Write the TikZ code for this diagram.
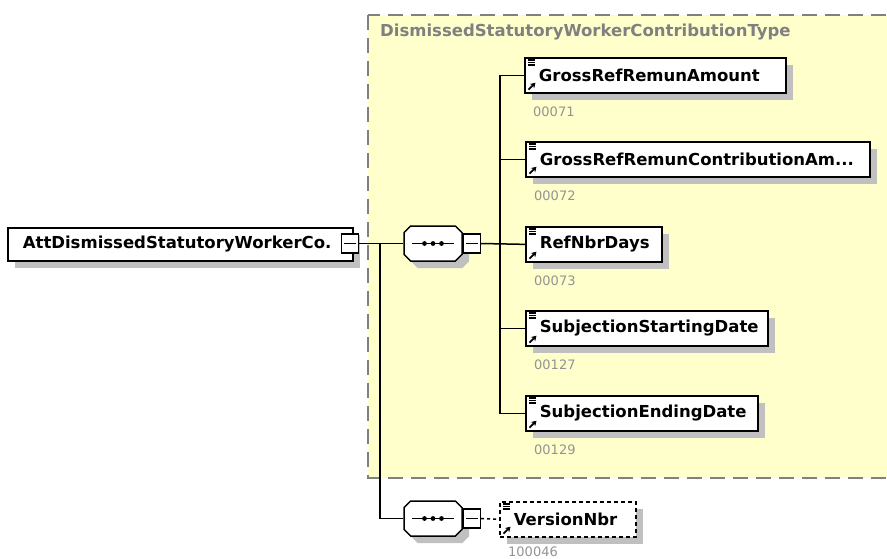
\documentclass[tikz,border=0pt]{standalone}
\usepackage{fontspec}
\setmainfont{DejaVu Sans}
\usetikzlibrary{positioning,shapes.misc,shadows,arrows.meta}
\hyphenpenalty=10000
\exhyphenpenalty=10000
\definecolor{fundo}{RGB}{255,255,204}
\definecolor{sombra}{RGB}{192,192,192}
\definecolor{cinza}{RGB}{128,128,128}
\tikzset{
  elemento/.style={draw, line width=1.7pt, fill=white, anchor=north west,
    minimum height=35pt, inner xsep=14pt, align=left,
    font=\bfseries\fontsize{16.5}{18}\selectfont,
    general shadow={fill=sombra, shadow xshift=7pt, shadow yshift=-7pt}},
  codigo/.style={inner sep=0pt, text=cinza!85, font=\fontsize{13}{14}\selectfont},
  seq/.style={chamfered rectangle, chamfered rectangle xsep=9pt, draw,
    line width=1.5pt, fill=white, minimum width=58pt, minimum height=35pt,
    general shadow={fill=sombra, shadow xshift=7pt, shadow yshift=-7pt}},
  menos/.style={draw, line width=1.4pt, fill=white, minimum width=17pt,
    minimum height=19pt, inner sep=0pt},
  ligacao/.style={line width=1.5pt}
}
% icones de elemento
\newcommand{\icones}[1]{%
  \foreach \d in {3,5.5,8}
    {\draw[line width=1.1pt] ([xshift=4pt,yshift=-\d pt]#1.north west) -- ++(7pt,0);}
  \draw[line width=1.8pt,-{Stealth[length=5pt,width=6pt]}]
    ([xshift=4.5pt,yshift=4pt]#1.south west) -- ++(7pt,7pt);
}
% simbolo de sequencia
\newcommand{\sequencia}[1]{%
  \draw[line width=1.4pt] ([xshift=9pt]#1.west) -- ([xshift=-9pt]#1.east);
  \foreach \d in {-8.5,0,8.5}
    {\fill ([xshift=\d pt]#1.center) circle (2.4pt);}
}
\newcommand{\menos}[1]{%
  \draw[line width=1.4pt] ([xshift=3pt]#1.west) -- ([xshift=-3pt]#1.east);
}
\begin{document}
\begin{tikzpicture}[x=1pt, y=-1pt]
  \useasboundingbox (0,0) rectangle (887,558);

  %tipo
  \draw[cinza, line width=1.6pt, dash pattern=on 15pt off 8pt, fill=fundo]
    (368,15) rectangle (900,478);
  \node[anchor=west, inner sep=0pt, text=cinza, font=\bfseries\fontsize{16.5}{18}\selectfont]
    (tipo) at (380,32) {DismissedStatutoryWorkerContributionType};

  %nós
  \node[elemento, text width=315pt, inner xsep=15pt, minimum height=33pt]
    (raiz) at (7,227) {AttDismissedStatutoryWorkerCo.};
  \node[menos] (raizm) at (350,243.5) {};
  \node[seq] (s1) at (433,243.5) {};
  \node[menos] (s1m) at (472,243.5) {};
  \node[seq] (s2) at (433,518.5) {};
  \node[menos] (s2m) at (472,518.5) {};

  \node[elemento, text width=233pt] (g1) at (524,57) {GrossRefRemunAmount};
  \node[elemento, text width=316pt] (g2) at (525,141) {GrossRefRemunContributionAm...};
  \node[elemento, text width=108pt] (g3) at (525,226) {RefNbrDays};
  \node[elemento, text width=214pt] (g4) at (525,310) {SubjectionStartingDate};
  \node[elemento, text width=204pt] (g5) at (525,395) {SubjectionEndingDate};
  \node[elemento, text width=108pt, dash pattern=on 4pt off 3pt] (versao) at (499,501) {VersionNbr};

  \node[codigo, below right=13pt and 9pt of g1.south west] (c1) {00071};
  \node[codigo, below right=13pt and 9pt of g2.south west] (c2) {00072};
  \node[codigo, below right=13pt and 9pt of g3.south west] (c3) {00073};
  \node[codigo, below right=13pt and 9pt of g4.south west] (c4) {00127};
  \node[codigo, below right=13pt and 9pt of g5.south west] (c5) {00129};
  \node[codigo, below right=9pt and 9pt of versao.south west] (c6) {100046};

  \foreach \n in {g1,g2,g3,g4,g5,versao} {\icones{\n}}
  \sequencia{s1}
  \sequencia{s2}
  \foreach \n in {raizm,s1m,s2m} {\menos{\n}}

  %arestas
  \coordinate (ramo) at (380,243.5);
  \coordinate (tronco) at (500,243.5);
  \draw[ligacao] (raizm.east) -- (s1.west);
  \draw[ligacao] (ramo) |- (s2.west);
  \draw[ligacao] (s1m.east) -- (g3.west);
  \foreach \n in {g1,g2,g4,g5}
    {\draw[ligacao] (tronco) |- (\n.west);}
  \draw[ligacao, dash pattern=on 3pt off 3pt] (s2m.east) -- (versao.west);
\end{tikzpicture}
\end{document}
